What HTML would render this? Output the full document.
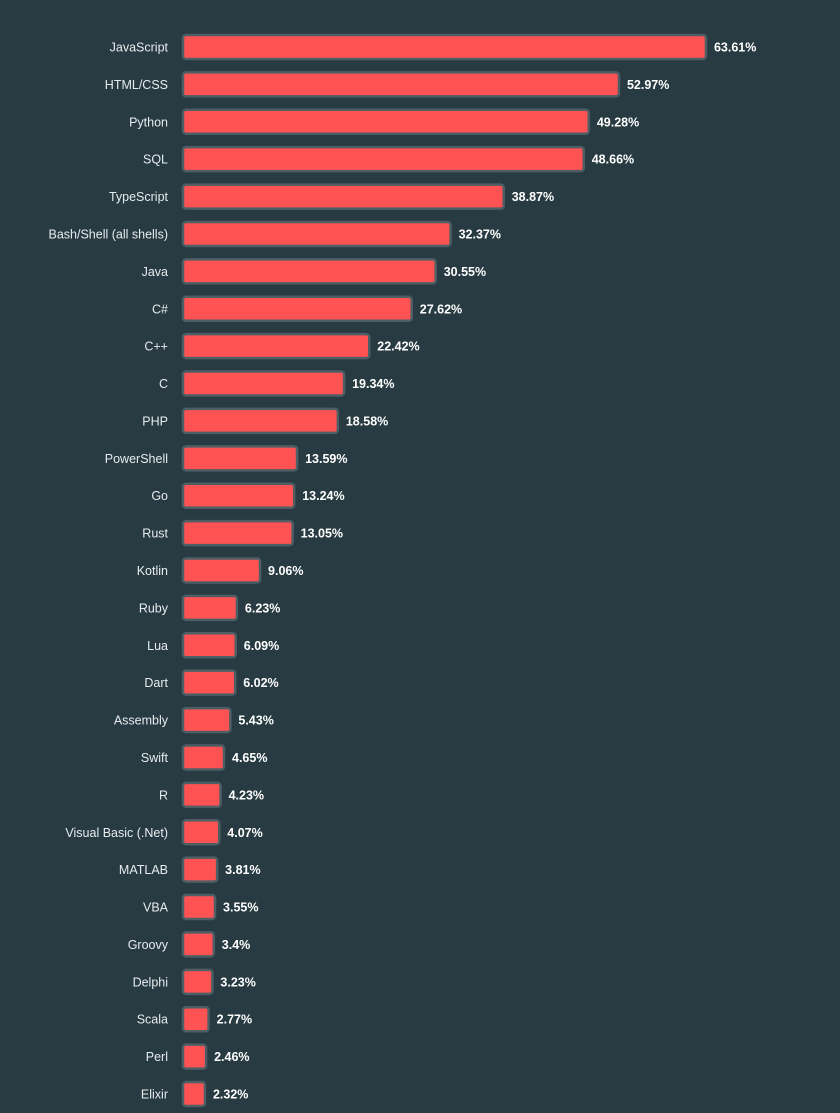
<!DOCTYPE html>
<html><head><meta charset="utf-8"><style>
body{margin:0;background:#283b42;}
svg{display:block;}
text{font-family:"Liberation Sans",sans-serif;font-size:12.5px;}
</style></head><body>
<svg id="chart" width="840" height="1113" xmlns="http://www.w3.org/2000/svg"></svg>
<script>
const categories=["JavaScript","HTML/CSS","Python","SQL","TypeScript","Bash/Shell (all shells)","Java","C#","C++","C","PHP","PowerShell","Go","Rust","Kotlin","Ruby","Lua","Dart","Assembly","Swift","R","Visual Basic (.Net)","MATLAB","VBA","Groovy","Delphi","Scala","Perl","Elixir"];
const values=[63.61,52.97,49.28,48.66,38.87,32.37,30.55,27.62,22.42,19.34,18.58,13.59,13.24,13.05,9.06,6.23,6.09,6.02,5.43,4.65,4.23,4.07,3.81,3.55,3.4,3.23,2.77,2.46,2.32];
const labels=["63.61%","52.97%","49.28%","48.66%","38.87%","32.37%","30.55%","27.62%","22.42%","19.34%","18.58%","13.59%","13.24%","13.05%","9.06%","6.23%","6.09%","6.02%","5.43%","4.65%","4.23%","4.07%","3.81%","3.55%","3.4%","3.23%","2.77%","2.46%","2.32%"];
const svg=document.getElementById('chart');
const NS="http://www.w3.org/2000/svg";
const x0=183, k=8.174, y0=47, step=(1094-47)/28, bh=24;
function xw(v){return 3+k*v;}
function yc(i){return y0+i*step;}
categories.forEach((c,i)=>{
  const y=yc(i);
  const t=document.createElementNS(NS,'text');
  
  
  t.setAttribute('x',168);t.setAttribute('y',y+4.5);t.setAttribute('text-anchor','end');t.setAttribute('fill','#e6ecee');
  t.textContent=c;svg.appendChild(t);
  const r=document.createElementNS(NS,'rect');
  
  
  r.setAttribute('x',x0);r.setAttribute('y',y-bh/2);r.setAttribute('width',xw(values[i]));r.setAttribute('height',bh);
  r.setAttribute('rx',3);r.setAttribute('fill','#ff5353');r.setAttribute('stroke','#4d5e64');r.setAttribute('stroke-width',2.5);
  svg.appendChild(r);
  const v=document.createElementNS(NS,'text');
  
  
  v.setAttribute('x',x0+xw(values[i])+8);v.setAttribute('y',y+4.5);v.setAttribute('fill','#ffffff');v.setAttribute('font-weight','bold');
  v.textContent=labels[i];svg.appendChild(v);
});
</script>
</body></html>
